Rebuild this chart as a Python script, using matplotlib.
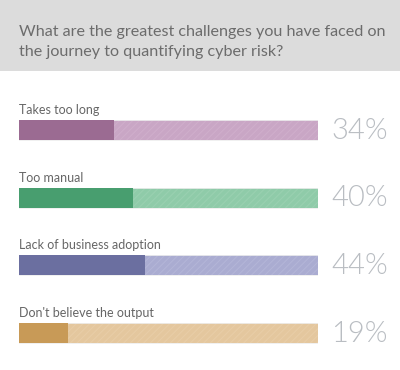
import matplotlib
matplotlib.use("Agg")
import matplotlib.pyplot as plt
from matplotlib.patches import Rectangle

title = "What are the greatest challenges you have faced on\nthe journey to quantifying cyber risk?"
categories = ["Takes too long", "Too manual", "Lack of business adoption", "Don't believe the output"]
values = [34, 40, 44, 19]
value_labels = ["34%", "40%", "44%", "19%"]
dark_colors = ["#9b6b92", "#489e6f", "#6b6fa0", "#c89a57"]
light_colors = ["#c9a6c5", "#8fcba9", "#aaacd1", "#e4c79e"]
hatch_colors = ["#cfaecb", "#99d0b1", "#b3b5d7", "#e8cda7"]

W, H = 400, 370
fig = plt.figure(figsize=(W / 100, H / 100), dpi=100)
fig.patch.set_facecolor("white")
plt.rcParams["hatch.linewidth"] = 0.8

# title band
fig.patches.append(Rectangle((0, 1 - 71 / H), 1, 71 / H, transform=fig.transFigure,
                             facecolor="#dcdcdc", edgecolor="none", zorder=0))
fig.text(19 / W, 1 - 42 / H, title, fontsize=11.6, family=["Lato", "DejaVu Sans"],
         color="#6c6c6c", va="center", ha="left", linespacing=1.55)

ax = fig.add_axes([9.5 / W, 1 - 367 / H, 308 / W, 271 / H])
ax.set_xlim(0, 100)
ax.set_ylim(len(categories) - 0.5, -0.5)
ax.axis("off")

start = 3.1
bh = 20 / 67.75
for i, (cat, v, lab) in enumerate(zip(categories, values, value_labels)):
    ax.barh(i, 100 - start, left=start, height=bh, color=light_colors[i],
            edgecolor=hatch_colors[i], hatch="/////", linewidth=0, zorder=1)
    ax.barh(i, 100 - start, left=start, height=bh, color="none",
            edgecolor="#eeeeee", linewidth=0.6, zorder=1.5)
    ax.barh(i, v - start, left=start, height=bh, color=dark_colors[i],
            linewidth=0, zorder=2)
    ax.text(start, i - 0.235, cat, fontsize=9, family=["Lato", "DejaVu Sans"],
            color="#666666", ha="left", va="baseline")
    ax.text(122.9, i + 0.01, lab, fontsize=21, family=["Lato", "DejaVu Sans"],
            fontweight=300, color="#b9bdc2", ha="right", va="center", clip_on=False)

fig.savefig("out.png", dpi=100)
